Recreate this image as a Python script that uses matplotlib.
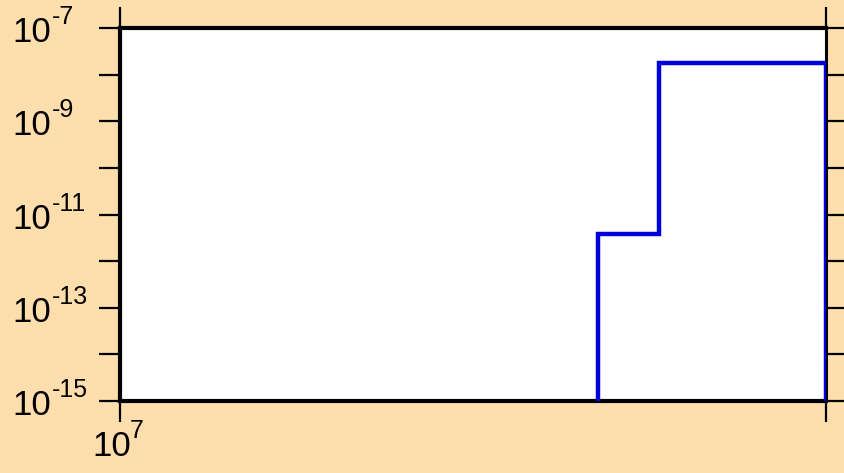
import matplotlib
matplotlib.use("Agg")
import matplotlib.pyplot as plt
from matplotlib.ticker import FixedLocator, NullFormatter

plt.rcParams["font.family"] = ["Liberation Sans", "DejaVu Sans"]

# bin edges (x) and step heights (y)
bin_edges = [4.75e7, 5.8e7, 1.0e8]
step_values = [3.8e-12, 1.8e-8]

x_ticks = [1e7, 1e8]
x_labeled = {1e7: "7"}
y_ticks = [10.0 ** e for e in range(-15, -6)]
y_labeled = {1e-15: "-15", 1e-13: "-13", 1e-11: "-11", 1e-9: "-9", 1e-7: "-7"}

BASE_FS = 25
SUP_FS = 18

fig = plt.figure(figsize=(8.45, 4.73), dpi=100, facecolor="#FFDEAD")
ax = fig.add_axes([120 / 845, 1 - 401 / 473, 706 / 845, 373 / 473])
ax.set_facecolor("white")

ax.stairs(step_values, bin_edges, baseline=1e-20, color="#0000DD",
          linewidth=3.2, zorder=3)

ax.set_xscale("log")
ax.set_yscale("log")
ax.set_xlim(1e7, 1e8)
ax.set_ylim(1e-15, 1e-7)

ax.xaxis.set_major_locator(FixedLocator(x_ticks))
ax.yaxis.set_major_locator(FixedLocator(y_ticks))
ax.xaxis.set_minor_locator(FixedLocator([]))
ax.yaxis.set_minor_locator(FixedLocator([]))
ax.xaxis.set_major_formatter(NullFormatter())
ax.yaxis.set_major_formatter(NullFormatter())

ax.tick_params(axis="both", which="major", direction="out", length=15,
               width=1.6, top=True, right=True)

for side in ["left", "bottom", "top"]:
    ax.spines[side].set_linewidth(3)
ax.spines["right"].set_linewidth(2.2)

# tick labels as "10" plus a raised exponent (plain hyphen, like the original)
ytr = ax.get_yaxis_transform()
for val, ex in y_labeled.items():
    ax.annotate("10", xy=(0, val), xycoords=ytr, xytext=(-108, -14),
                textcoords="offset pixels", ha="left", va="baseline",
                fontsize=BASE_FS, annotation_clip=False)
    ax.annotate(ex, xy=(0, val), xycoords=ytr, xytext=(-68, 4),
                textcoords="offset pixels", ha="left", va="baseline",
                fontsize=SUP_FS, annotation_clip=False)

xtr = ax.get_xaxis_transform()
for val, ex in x_labeled.items():
    ax.annotate("10", xy=(val, 0), xycoords=xtr, xytext=(-28, -55),
                textcoords="offset pixels", ha="left", va="baseline",
                fontsize=BASE_FS, annotation_clip=False)
    ax.annotate(ex, xy=(val, 0), xycoords=xtr, xytext=(10, -37),
                textcoords="offset pixels", ha="left", va="baseline",
                fontsize=SUP_FS, annotation_clip=False)

fig.savefig("out.png", dpi=100, facecolor=fig.get_facecolor())
